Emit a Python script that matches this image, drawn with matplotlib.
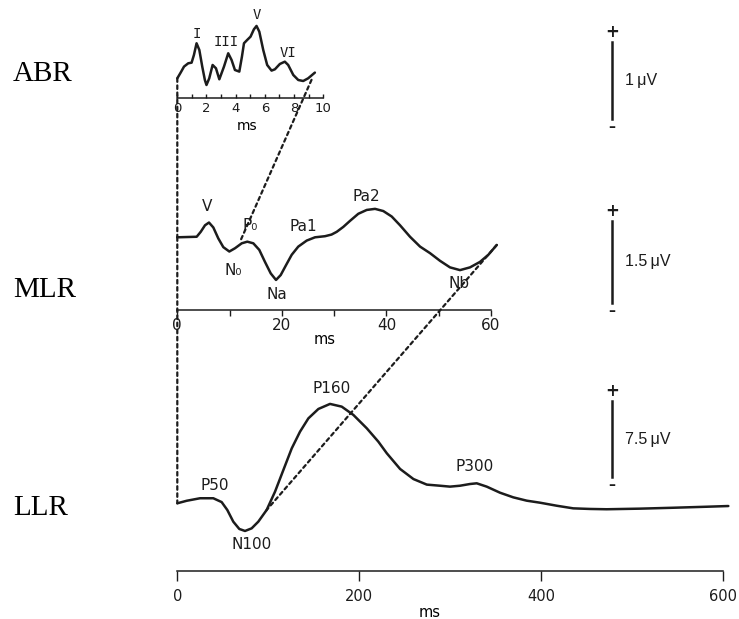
import matplotlib
matplotlib.use("Agg")
import matplotlib.pyplot as plt
from matplotlib.patches import ConnectionPatch
from matplotlib.transforms import blended_transform_factory

plt.rcParams["font.family"] = "DejaVu Sans"

# ---- data (ms, microvolts) ----
abr_ms = [0, 0.23, 0.46, 0.75, 0.98, 1.14, 1.32, 1.51, 1.71, 1.89, 2.00, 2.19, 2.42, 2.65,
          2.88, 3.20, 3.49, 3.72, 3.95, 4.25, 4.43, 4.57, 4.79, 5.02, 5.25, 5.43, 5.62, 5.89,
          6.16, 6.46, 6.69, 7.03, 7.37, 7.60, 7.95, 8.29, 8.63, 8.97, 9.43]
abr_uv = [0, 0.074, 0.152, 0.195, 0.203, 0.303, 0.455, 0.368, 0.152, -0.022, -0.087, 0,
          0.173, 0.130, -0.013, 0.152, 0.325, 0.238, 0.108, 0.087, 0.281, 0.455, 0.498,
          0.541, 0.636, 0.680, 0.606, 0.368, 0.173, 0.100, 0.117, 0.186, 0.216, 0.173,
          0.043, -0.022, -0.035, 0, 0.074]

mlr_ms = [0, 3.71, 4.48, 5.30, 6.06, 6.89, 7.84, 8.80, 9.95, 11.04, 12.32, 13.39, 14.54,
          15.68, 16.77, 17.87, 18.88, 19.78, 20.79, 21.88, 23.14, 24.75, 26.34, 28.25, 29.50,
          30.49, 31.75, 33.03, 34.62, 36.23, 37.82, 39.40, 41.01, 42.60, 44.51, 46.43, 48.34,
          50.25, 52.16, 54.07, 55.98, 57.89, 59.49, 61.10]
mlr_uv = [0, 0.01, 0.10, 0.22, 0.27, 0.18, -0.02, -0.18, -0.26, -0.20, -0.11, -0.08, -0.11,
          -0.23, -0.45, -0.66, -0.78, -0.69, -0.51, -0.32, -0.17, -0.06, 0, 0.02, 0.05, 0.10,
          0.19, 0.30, 0.43, 0.50, 0.52, 0.48, 0.38, 0.22, 0.01, -0.17, -0.29, -0.43, -0.55,
          -0.60, -0.55, -0.45, -0.32, -0.14]

llr_ms = [0, 10.3, 25.0, 39.6, 48.8, 55.0, 61.6, 68.2, 74.5, 81.8, 89.1, 98.3, 107.5, 116.7,
          125.9, 135.0, 144.2, 155.2, 168.0, 180.9, 193.7, 208.4, 221.1, 230.5, 245.1, 259.8,
          274.5, 289.0, 300.0, 311.0, 322.0, 329.4, 340.4, 355.0, 369.6, 384.4, 399.0, 417.4,
          435.6, 454.0, 472.4, 509.0, 545.7, 582.3, 606.2]
llr_uv = [0, 0.25, 0.50, 0.50, 0.12, -0.66, -1.82, -2.54, -2.74, -2.48, -1.82, -0.66, 1.15,
          3.30, 5.44, 7.09, 8.41, 9.34, 9.84, 9.57, 8.75, 7.43, 6.11, 4.95, 3.40, 2.40, 1.85,
          1.74, 1.65, 1.74, 1.91, 1.98, 1.65, 1.05, 0.59, 0.26, 0.06, -0.24, -0.50, -0.56,
          -0.59, -0.53, -0.44, -0.34, -0.27]

abr_peaks = ["I", "III", "V", "VI"]
abr_peak_pos = [(1.33, 0.58), (3.34, 0.475), (5.44, 0.82), (7.61, 0.33)]
mlr_peaks = ["V", "P\u2080", "Pa1", "Pa2", "N\u2080", "Na", "Nb"]
mlr_peak_pos = [(5.6, 0.57), (13.9, 0.22), (24.1, 0.19), (36.2, 0.74), (10.7, -0.60),
                (19.0, -1.05), (53.8, -0.84)]
llr_peaks = ["P50", "N100", "P160", "P300"]
llr_peak_pos = [(41.5, 1.81), (81.8, -4.03), (169.9, 11.39), (327.5, 3.62)]

abr_ticks = [0, 2, 4, 6, 8, 10]
mlr_ticks = [0, 20, 40, 60]
llr_ticks = [0, 200, 400, 600]
panel_names = ["ABR", "MLR", "LLR"]
scale_uv = [1, 1.5, 7.5]
scale_labels = ["1\u2009\u03bcV", "1.5\u2009\u03bcV", "7.5\u2009\u03bcV"]

W, H = 739, 619
ink = "#1c1c1c"
fig = plt.figure(figsize=(W / 100, H / 100), dpi=100)


def panel(x0, x1, base, ppu, y_axis, y_top, xmax):
    # pixel box -> axes, with 0 uV at pixel row `base`
    ax = fig.add_axes([x0 / W, 1 - y_axis / H, (x1 - x0) / W, (y_axis - y_top) / H])
    ax.set_xlim(0, xmax)
    ax.set_ylim((base - y_axis) / ppu, (base - y_top) / ppu)
    ax.patch.set_alpha(0)
    for s in ["top", "right", "left"]:
        ax.spines[s].set_visible(False)
    ax.spines["bottom"].set_linewidth(1.1)
    ax.spines["bottom"].set_color(ink)
    ax.set_yticks([])
    return ax


ax1 = panel(177.3, 323.2, 78.3, 77.0, 98, 5, 10)
ax2 = panel(177.3, 491.0, 237.3, 54.7, 310, 175, 60)
ax3 = panel(177.3, 722.7, 503.3, 10.1, 571, 370, 600)

for ax, xs, ys in [(ax1, abr_ms, abr_uv), (ax2, mlr_ms, mlr_uv), (ax3, llr_ms, llr_uv)]:
    ax.plot(xs, ys, color=ink, lw=1.8, clip_on=False,
            solid_joinstyle="round", solid_capstyle="round")

# axes ticks
ax1.set_xticks(abr_ticks)
ax1.set_xticks(range(11), minor=True)
ax1.tick_params(which="both", direction="in", length=3, width=1, colors=ink, labelsize=9.5, pad=3)
ax2.set_xticks(mlr_ticks)
ax2.set_xticks(range(0, 61, 10), minor=True)
ax2.tick_params(which="both", direction="out", length=4.5, width=1, colors=ink, labelsize=11, pad=1.5)
ax3.set_xticks(llr_ticks)
ax3.tick_params(direction="out", length=7, width=1, colors=ink, labelsize=10.5, pad=6)

ax1.set_xlabel("ms", fontsize=10, labelpad=0)
ax1.xaxis.set_label_coords(0.48, -0.23)
ax2.set_xlabel("ms", fontsize=10.5, labelpad=0)
ax2.xaxis.set_label_coords(0.47, -0.165)
ax3.set_xlabel("ms", fontsize=10.5, labelpad=0)
ax3.xaxis.set_label_coords(0.463, -0.17)

# peak labels
for t, (x, y) in zip(abr_peaks, abr_peak_pos):
    ax1.text(x, y, t, family="DejaVu Sans Mono", fontsize=10, ha="center", va="center", color=ink)
for t, (x, y) in zip(mlr_peaks, mlr_peak_pos):
    ax2.text(x, y, t, fontsize=11, ha="center", va="center", color=ink)
for t, (x, y) in zip(llr_peaks, llr_peak_pos):
    ax3.text(x, y, t, fontsize=11, ha="center", va="center", color=ink)

# zoom connectors
dash = dict(linestyle=(0, (1.6, 1.6)), lw=1.6, color=ink)
for (axA, pA, axB, pB) in [(ax1, (0, 0), ax2, (0, 0)),
                           (ax1, (9.2, -0.02), ax2, (12.0, -0.08)),
                           (ax2, (0, 0), ax3, (0, 0)),
                           (ax2, (61.1, -0.14), ax3, (96.0, -0.9))]:
    con = ConnectionPatch(xyA=pA, coordsA=axA.transData, xyB=pB, coordsB=axB.transData, **dash)
    fig.add_artist(con)

# calibration bars
bar_bottom = [-0.53, -1.2, 2.6]
for ax, v, lab, b in zip([ax1, ax2, ax3], scale_uv, scale_labels, bar_bottom):
    tr = blended_transform_factory(fig.transFigure, ax.transData)
    ax.plot([612 / W, 612 / W], [b, b + v], transform=tr, color=ink, lw=1.8, clip_on=False)
    ax.annotate("+", (612 / W, b + v), xycoords=tr, xytext=(0, 1), textcoords="offset points",
                ha="center", va="bottom", fontsize=12, fontweight="bold", color=ink)
    ax.annotate("\u2013", (612 / W, b), xycoords=tr, xytext=(0, -1), textcoords="offset points",
                ha="center", va="top", fontsize=10, fontweight="bold", color=ink)
    ax.text(625 / W, b + v / 2, lab, transform=tr, fontsize=11.5, ha="left", va="center",
            color=ink, family="Liberation Sans")

# panel names
for name, yp in zip(panel_names, [74, 290, 508]):
    fig.text(13 / W, 1 - yp / H, name, family="Liberation Serif", fontsize=21,
             ha="left", va="center", color="black")

fig.savefig("out.png", dpi=100)
